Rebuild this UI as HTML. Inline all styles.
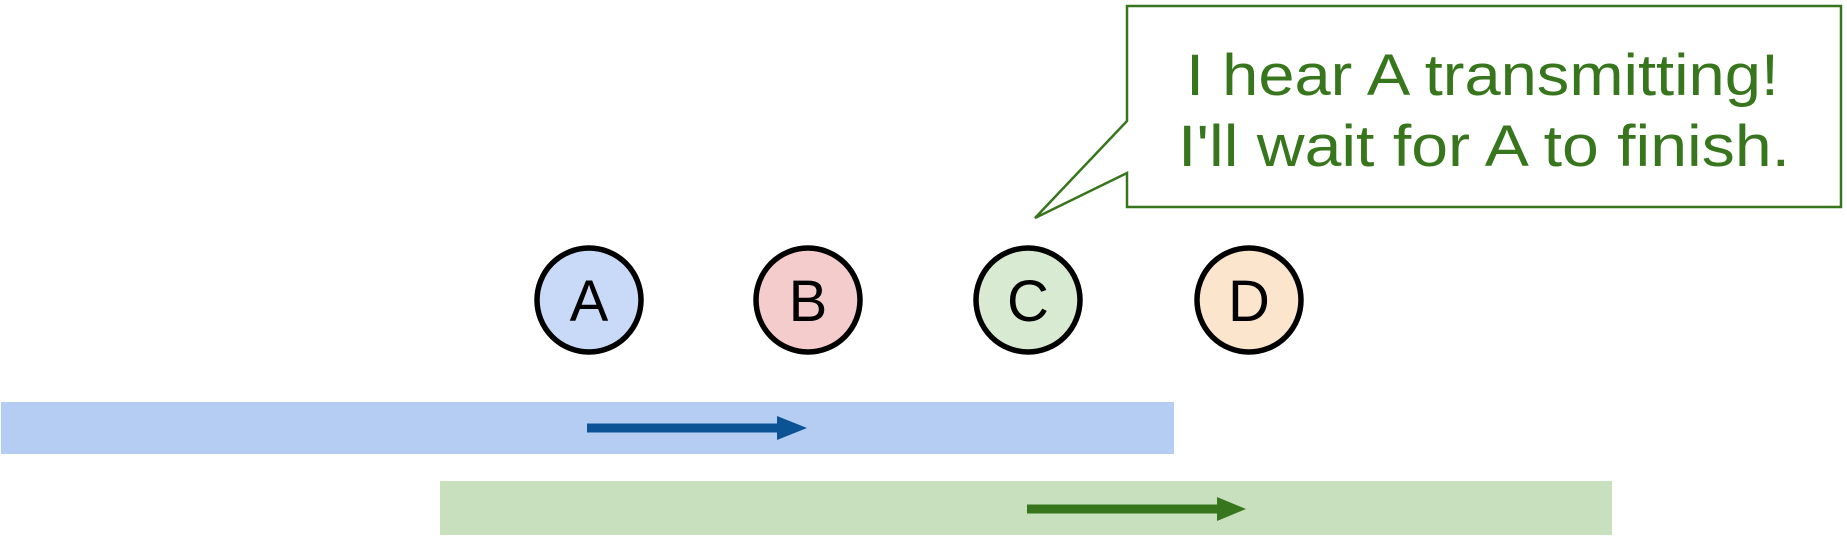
<!DOCTYPE html>
<html><head><style>html,body{margin:0;padding:0;background:#fff;}svg{display:block}</style></head>
<body>
<svg width="1847" height="540" viewBox="0 0 1847 540" xmlns="http://www.w3.org/2000/svg">
<polygon points="1127,6 1841,6 1841,207 1127,207 1127,173 1035,218 1127,121" fill="#fff" stroke="#38761d" stroke-width="2.5"/>
<g font-family="Liberation Sans, sans-serif" fill="#38761d" font-size="58">
<text x="1186" y="95" textLength="593" lengthAdjust="spacingAndGlyphs">I hear A transmitting!</text>
<text x="1178" y="166" textLength="612" lengthAdjust="spacingAndGlyphs">I'll wait for A to finish.</text>
</g>
<g stroke="#000" stroke-width="5.5">
<circle cx="589" cy="300" r="52" fill="#c9daf8"/>
<circle cx="808" cy="300" r="52" fill="#f4cccc"/>
<circle cx="1028" cy="300" r="52" fill="#d9ead3"/>
<circle cx="1249" cy="300" r="52" fill="#fce5cd"/>
</g>
<g font-family="Liberation Sans, sans-serif" font-size="58" text-anchor="middle" fill="#000">
<text x="589" y="321">A</text><text x="808" y="321">B</text><text x="1028" y="321">C</text><text x="1249" y="321">D</text>
</g>
<rect x="1" y="402" width="1173" height="52" fill="#b5cdf3"/>
<rect x="440" y="481" width="1172" height="54" fill="#c9e0bf"/>
<line x1="587" y1="428" x2="780" y2="428" stroke="#0b5394" stroke-width="9"/>
<polygon points="777,416 807,428 777,440" fill="#0b5394"/>
<line x1="1027" y1="509" x2="1220" y2="509" stroke="#38761d" stroke-width="9"/>
<polygon points="1217,497 1246,509 1217,521" fill="#38761d"/>
</svg>
</body></html>
